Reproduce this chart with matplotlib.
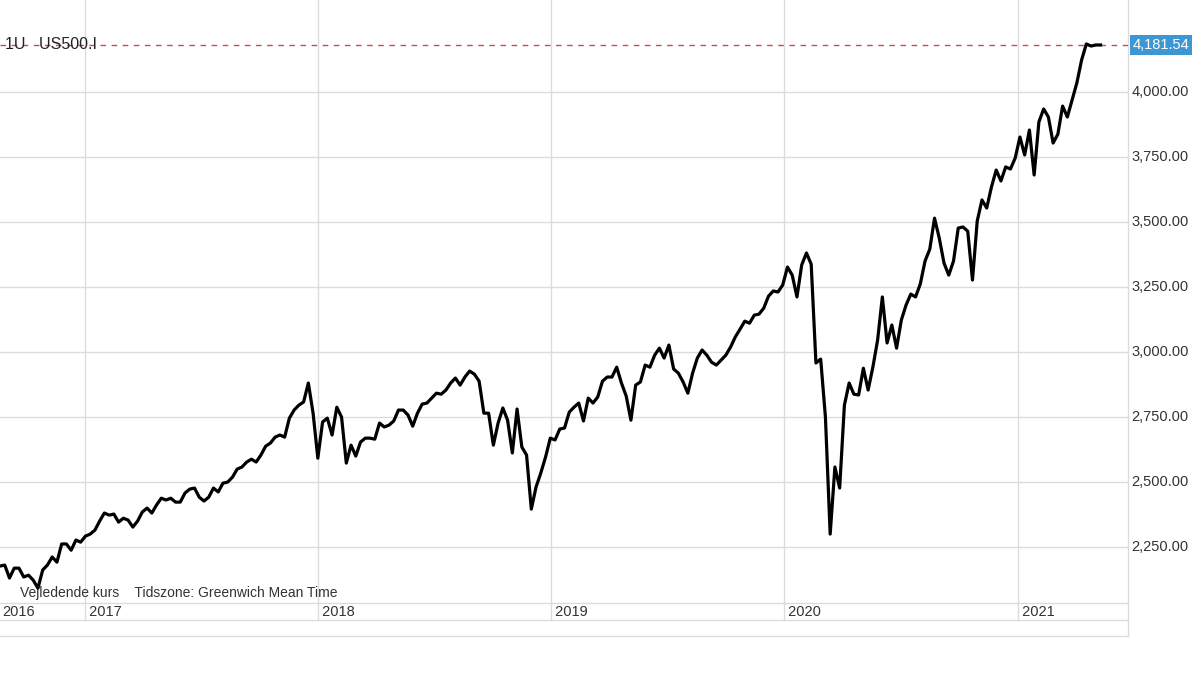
import matplotlib
matplotlib.use("Agg")
import matplotlib.pyplot as plt
import matplotlib.transforms as mtransforms
import pandas as pd

plt.rcParams["font.family"] = "Liberation Sans"

# weekly closes (US500)
start_date = "2016-08-20"
end_date = "2021-05-11"
closes = [
    2177, 2181, 2131, 2169, 2169, 2135, 2142, 2123, 2092, 2162, 2181, 2212, 2192, 2262,
    2262, 2238, 2277, 2269, 2292, 2300, 2315, 2350, 2381, 2373, 2377, 2346, 2361, 2354,
    2327, 2350, 2385, 2400, 2381, 2412, 2438, 2431, 2438, 2423, 2423, 2458, 2473, 2477,
    2442, 2427, 2442, 2477, 2462, 2496, 2500, 2519, 2550, 2558, 2577, 2588, 2577, 2604,
    2638, 2650, 2673, 2681, 2673, 2746, 2777, 2796, 2808, 2881, 2765, 2592, 2731, 2746,
    2681, 2788, 2750, 2573, 2642, 2600, 2654, 2669, 2669, 2665, 2727, 2712, 2719, 2735,
    2777, 2777, 2758, 2715, 2765, 2800, 2804, 2823, 2842, 2838, 2854, 2881, 2900, 2873,
    2904, 2927, 2915, 2888, 2765, 2765, 2642, 2727, 2785, 2738, 2612, 2781, 2635, 2604,
    2396, 2481, 2535, 2596, 2669, 2662, 2704, 2708, 2769, 2788, 2804, 2735, 2823, 2804,
    2827, 2888, 2904, 2904, 2942, 2881, 2831, 2738, 2873, 2885, 2950, 2942, 2988, 3015,
    2977, 3027, 2935, 2919, 2885, 2842, 2919, 2977, 3008, 2988, 2961, 2950, 2969, 2988,
    3019, 3058, 3088, 3119, 3111, 3142, 3146, 3169, 3215, 3235, 3231, 3258, 3327, 3296,
    3212, 3335, 3381, 3338, 2958, 2973, 2750, 2300, 2558, 2477, 2796, 2881, 2838, 2835,
    2938, 2854, 2942, 3046, 3212, 3035, 3104, 3015, 3123, 3181, 3223, 3212, 3262, 3350,
    3396, 3515, 3438, 3342, 3296, 3350, 3477, 3481, 3465, 3277, 3504, 3585, 3554, 3635,
    3700, 3658, 3712, 3704, 3746, 3827, 3758, 3854, 3681, 3885, 3935, 3904, 3804, 3838,
    3946, 3904, 3969, 4035, 4123, 4185, 4177, 4181, 4181,
]
last_price = 4181.54
y_ticks = [2250, 2500, 2750, 3000, 3250, 3500, 3750, 4000]
years = [2016, 2017, 2018, 2019, 2020, 2021]

dates = pd.date_range(start_date, end_date, periods=len(closes))
x_min, x_max = pd.Timestamp("2016-08-20"), pd.Timestamp("2021-06-23")

fig = plt.figure(figsize=(12, 6.75), dpi=100)
ax = fig.add_axes([0, 1 - 603 / 675, 1128 / 1200, 603 / 675])
ax.set_xlim(x_min, x_max)
ax.set_ylim(2035, 4354)

grid_c = "#dcdcdc"
txt_c = "#333333"
for v in y_ticks:
    ax.axhline(v, color=grid_c, lw=1, zorder=0)
    ax.text(1.003, v, f"{v:,.2f}", transform=ax.get_yaxis_transform(),
            ha="left", va="center", fontsize=10.5, color=txt_c)

blend = mtransforms.blended_transform_factory(ax.transData, ax.transAxes)
for yr in years:
    d = pd.Timestamp(f"{yr}-01-01")
    if d > x_min:
        ax.plot([d, d], [1, -17 / 603], transform=blend, color=grid_c, lw=1,
                clip_on=False, zorder=0)
        ax.text(d, -9 / 603, f" {yr}", transform=blend, ha="left", va="center",
                fontsize=10.5, color=txt_c)
    else:
        ax.text(0.002, -9 / 603, str(yr), transform=ax.transAxes, ha="left",
                va="center", fontsize=10.5, color=txt_c)

for yy in [0, -17 / 603, -33 / 603]:
    ax.plot([0, 1], [yy, yy], transform=ax.transAxes, color=grid_c, lw=1, clip_on=False)
ax.plot([1, 1], [1, -33 / 603], transform=ax.transAxes, color=grid_c, lw=1, clip_on=False)

ax.plot(dates, closes, color="black", lw=2.3, zorder=3)
ax.axhline(last_price, color="#c0504d", lw=1, ls=(0, (4, 4)), zorder=2)
ax.text(1.004, last_price, f"{last_price:,.2f}", transform=ax.get_yaxis_transform(),
        ha="left", va="center", fontsize=10.5, color="white",
        bbox=dict(boxstyle="square,pad=0.2", fc="#3d97d3", ec="none"))

ax.text(0.004, last_price, "1U   US500.I", ha="left", va="center", fontsize=11.5,
        color="#222222", transform=ax.get_yaxis_transform(), zorder=4)
ax.text(20 / 1128, 10 / 603, "Vejledende kurs    Tidszone: Greenwich Mean Time",
        transform=ax.transAxes, ha="left", va="center", fontsize=10, color=txt_c)

for s in ax.spines.values():
    s.set_visible(False)
ax.set_xticks([])
ax.set_yticks([])

fig.savefig("out.png", dpi=100)
